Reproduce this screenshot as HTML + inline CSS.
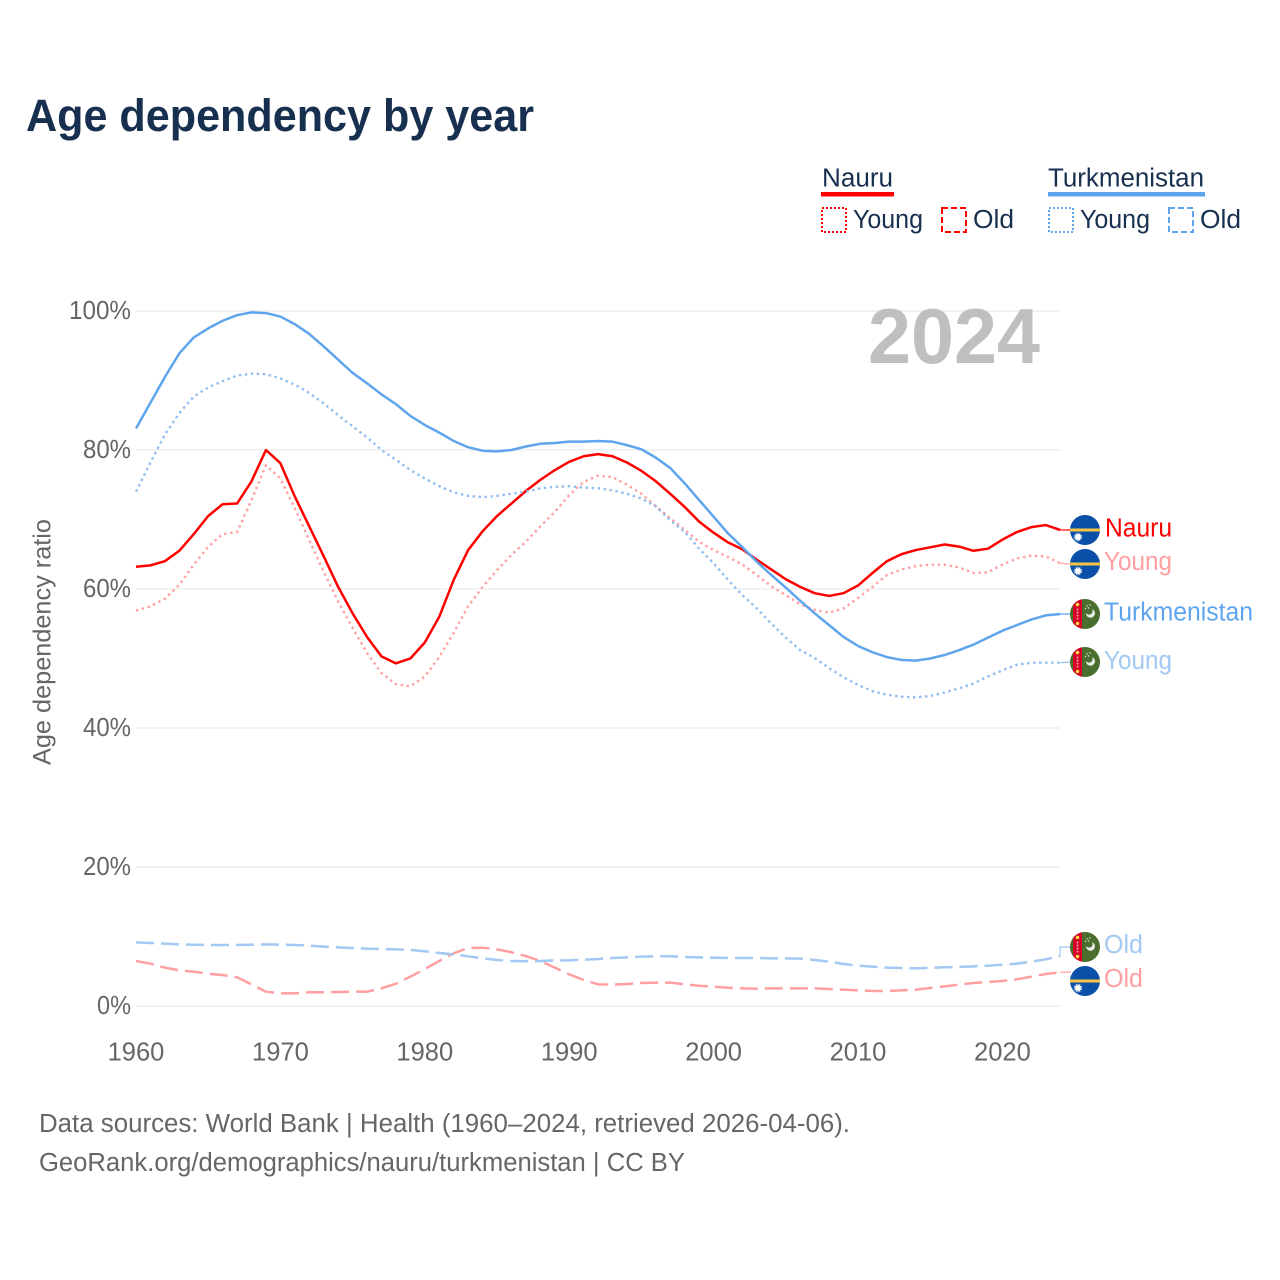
<!DOCTYPE html>
<html lang="en">
<head>
<meta charset="utf-8">
<title>Age dependency by year</title>
<style>
html,body{margin:0;padding:0;background:#fff;width:1280px;height:1280px;overflow:hidden}
svg{display:block;font-family:"Liberation Sans",sans-serif}
</style>
</head>
<body>
<svg id="chart" xmlns="http://www.w3.org/2000/svg" width="1280" height="1280" viewBox="0 0 1280 1280">
  <rect width="1280" height="1280" fill="#fff"/>
  <text x="26" y="131" font-size="45" font-weight="700" fill="#18304f" textLength="508" lengthAdjust="spacingAndGlyphs">Age dependency by year</text>

  <g font-size="25.5" fill="#18304f">
    <text x="822" y="186.5" textLength="71" lengthAdjust="spacingAndGlyphs">Nauru</text>
    <rect x="821" y="192" width="73" height="4.5" fill="#ff0000"/>
    <rect x="822" y="208" width="24" height="24" fill="none" stroke="#ff0000" stroke-width="2" stroke-dasharray="2 2"/>
    <text x="853" y="228" textLength="70" lengthAdjust="spacingAndGlyphs">Young</text>
    <rect x="942" y="208" width="24" height="24" fill="none" stroke="#ff0000" stroke-width="2" stroke-dasharray="6 3"/>
    <text x="973" y="228" textLength="41" lengthAdjust="spacingAndGlyphs">Old</text>
    <text x="1048" y="186.5" textLength="156" lengthAdjust="spacingAndGlyphs">Turkmenistan</text>
    <rect x="1048" y="192" width="157" height="4.5" fill="#5fa5ee"/>
    <rect x="1049" y="208" width="24" height="24" fill="none" stroke="#5fa5ee" stroke-width="2" stroke-dasharray="2 2"/>
    <text x="1080" y="228" textLength="70" lengthAdjust="spacingAndGlyphs">Young</text>
    <rect x="1169" y="208" width="24" height="24" fill="none" stroke="#5fa5ee" stroke-width="2" stroke-dasharray="6 3"/>
    <text x="1200" y="228" textLength="41" lengthAdjust="spacingAndGlyphs">Old</text>
  </g>

  <g id="grid"></g>
  <text x="868" y="363" font-size="78" font-weight="700" fill="#bfbfbf" textLength="172" lengthAdjust="spacingAndGlyphs">2024</text>
  <g id="yticks" font-size="25.5" fill="#666"></g>
  <g id="xticks" font-size="25.5" fill="#666"></g>
  <text transform="translate(50.5 765) rotate(-90)" font-size="25" fill="#666" textLength="246" lengthAdjust="spacingAndGlyphs">Age dependency ratio</text>
  <g id="series"></g>
  <g id="flags"></g>

  <g font-size="25.5">
    <text x="1105" y="536.5" fill="#ff0000" textLength="67" lengthAdjust="spacingAndGlyphs">Nauru</text>
    <text x="1104" y="570" fill="#ff9fa1" textLength="68" lengthAdjust="spacingAndGlyphs">Young</text>
    <text x="1104" y="620.5" fill="#5fa5ee" textLength="149" lengthAdjust="spacingAndGlyphs">Turkmenistan</text>
    <text x="1104" y="669" fill="#a2c9f3" textLength="68" lengthAdjust="spacingAndGlyphs">Young</text>
    <text x="1104" y="953" fill="#a2c9f3" textLength="39" lengthAdjust="spacingAndGlyphs">Old</text>
    <text x="1104" y="987" fill="#ff9fa1" textLength="39" lengthAdjust="spacingAndGlyphs">Old</text>
  </g>

  <g font-size="25.5" fill="#666">
    <text x="39" y="1132" textLength="811" lengthAdjust="spacingAndGlyphs">Data sources: World Bank | Health (1960–2024, retrieved 2026-04-06).</text>
    <text x="39" y="1171" textLength="646" lengthAdjust="spacingAndGlyphs">GeoRank.org/demographics/nauru/turkmenistan | CC BY</text>
  </g>
</svg>
<script>
const years = [1960,1961,1962,1963,1964,1965,1966,1967,1968,1969,1970,1971,1972,1973,1974,1975,1976,1977,1978,1979,1980,1981,1982,1983,1984,1985,1986,1987,1988,1989,1990,1991,1992,1993,1994,1995,1996,1997,1998,1999,2000,2001,2002,2003,2004,2005,2006,2007,2008,2009,2010,2011,2012,2013,2014,2015,2016,2017,2018,2019,2020,2021,2022,2023,2024];
const xTickLabels = [1960,1970,1980,1990,2000,2010,2020];
const yTickLabels = [0,20,40,60,80,100];
const nauruTotal = [63.2,63.4,64.0,65.5,67.9,70.5,72.2,72.3,75.5,80.0,78.1,73.3,69.0,64.7,60.3,56.5,53.1,50.3,49.3,50.0,52.3,56.0,61.3,65.6,68.3,70.5,72.3,74.1,75.7,77.1,78.3,79.1,79.4,79.1,78.2,77.0,75.5,73.7,71.8,69.7,68.1,66.7,65.7,64.2,62.8,61.4,60.3,59.4,59.0,59.4,60.5,62.3,64.0,65.0,65.6,66.0,66.4,66.1,65.5,65.8,67.1,68.2,68.9,69.2,68.5];
const nauruYoung = [56.9,57.5,58.6,60.6,63.5,66.1,67.9,68.2,72.8,77.8,75.9,71.6,67.0,62.5,58.2,54.4,50.8,47.9,46.3,46.0,47.4,50.2,53.7,57.5,60.3,62.7,64.9,66.8,69.0,71.1,73.5,75.4,76.3,76.1,75.0,73.7,71.9,70.2,68.5,66.8,65.6,64.6,63.5,62.0,60.4,59.1,57.8,57.0,56.6,57.2,58.7,60.3,62.0,62.8,63.3,63.5,63.5,63.1,62.3,62.4,63.5,64.4,64.8,64.7,63.7];
const nauruOld = [6.47,6.09,5.52,5.13,4.94,4.65,4.46,4.12,3.12,2.06,1.82,1.82,1.97,1.97,2.01,2.06,2.06,2.54,3.21,4.22,5.32,6.47,7.58,8.35,8.39,8.15,7.73,7.19,6.47,5.52,4.56,3.74,3.12,3.07,3.17,3.31,3.36,3.36,3.12,2.92,2.78,2.63,2.54,2.49,2.54,2.54,2.54,2.54,2.44,2.35,2.25,2.16,2.16,2.25,2.35,2.59,2.83,3.07,3.31,3.45,3.6,3.84,4.22,4.6,4.85];
const turkmenTotal = [83.1,86.8,90.5,93.9,96.2,97.5,98.6,99.4,99.8,99.7,99.2,98.1,96.7,94.9,93.0,91.1,89.6,88.0,86.6,84.9,83.6,82.5,81.3,80.4,79.9,79.8,80.0,80.5,80.9,81.0,81.2,81.2,81.3,81.2,80.7,80.1,78.9,77.4,75.2,72.8,70.4,68.0,66.0,63.9,62.0,60.2,58.3,56.5,54.8,53.1,51.8,50.9,50.2,49.8,49.7,50.0,50.5,51.2,52.0,53.0,54.0,54.8,55.6,56.2,56.4];
const turkmenYoung = [74.0,78.2,82.2,85.3,87.7,89.0,89.9,90.7,91.0,90.9,90.3,89.4,88.2,86.7,85.0,83.4,81.8,80.0,78.6,77.1,75.9,74.8,73.9,73.4,73.2,73.4,73.7,74.0,74.5,74.7,74.8,74.6,74.5,74.2,73.7,73.0,71.9,69.9,68.2,65.8,63.7,61.3,59.1,57.2,55.0,53.0,51.2,50.1,48.6,47.3,46.2,45.3,44.8,44.5,44.4,44.6,45.1,45.7,46.4,47.4,48.3,49.1,49.4,49.4,49.4];
const turkmenOld = [9.16,9.06,8.97,8.87,8.82,8.78,8.78,8.78,8.82,8.87,8.82,8.78,8.68,8.54,8.44,8.35,8.25,8.2,8.15,8.06,7.87,7.63,7.43,7.15,6.86,6.62,6.47,6.43,6.47,6.57,6.57,6.67,6.76,6.9,7.0,7.1,7.15,7.15,7.05,7.0,6.95,6.9,6.9,6.9,6.86,6.86,6.81,6.62,6.38,6.04,5.8,5.66,5.52,5.47,5.42,5.47,5.57,5.62,5.71,5.8,5.94,6.09,6.38,6.72,7.19];

const NS = 'http://www.w3.org/2000/svg';
const xScale = v => 136 + (v - 1960) * 14.44;
const yScale = v => 1006 - v * 6.95;
function mk(tag, attrs, parent) {
  const el = document.createElementNS(NS, tag);
  for (const k in attrs) el.setAttribute(k, attrs[k]);
  parent.appendChild(el);
  return el;
}
const gridG = document.getElementById('grid');
const yG = document.getElementById('yticks');
const xG = document.getElementById('xticks');
const seriesG = document.getElementById('series');
const flagsG = document.getElementById('flags');

yTickLabels.forEach(v => {
  const line = mk('line', {x1:136, x2:1060, y1:yScale(v), y2:yScale(v), stroke:'#eeeeee', 'stroke-width':1.6}, gridG);
  
  
  const t = mk('text', {x:131, y:yScale(v) + 8, 'text-anchor':'end', textLength:20 + 14 * String(v).length, lengthAdjust:'spacingAndGlyphs'}, yG);
  
  
  t.textContent = v + '%';
});
xTickLabels.forEach(v => {
  const t = mk('text', {x:xScale(v), y:1060.5, 'text-anchor':'middle'}, xG);
  
  
  t.textContent = v;
});

const DOT = '2.4 3.6', DASH = '18 7';
const seriesDefs = [
  {name:'nauru-old', vals:nauruOld, color:'#ff9fa1', dash:DASH, labelY:972},
  {name:'nauru-young', vals:nauruYoung, color:'#ff9fa1', dash:DOT, labelY:564},
  {name:'nauru-total', vals:nauruTotal, color:'#ff0000', dash:null, labelY:530},
  {name:'turkmenistan-old', vals:turkmenOld, color:'#a2c9f3', dash:DASH, labelY:947},
  {name:'turkmenistan-young', vals:turkmenYoung, color:'#8fbdf0', dash:DOT, labelY:662},
  {name:'turkmenistan-total', vals:turkmenTotal, color:'#5fa5ee', dash:null, labelY:614}
];
seriesDefs.forEach(s => {
  const d = s.vals.map((v, i) => (i ? 'L' : 'M') + xScale(years[i]).toFixed(2) + ' ' + yScale(v).toFixed(2)).join(' ');
  const p = mk('path', {d:d, fill:'none', stroke:s.color, 'stroke-width':s.dash === DOT ? 2.4 : 2.5, 'stroke-linejoin':'round'}, seriesG);
  if (s.dash) p.setAttribute('stroke-dasharray', s.dash);
  
  
  const endX = xScale(years[years.length - 1]);
  const endY = yScale(s.vals[s.vals.length - 1]);
  const leaderD = 'M' + endX + ' ' + endY + ' L' + endX + ' ' + s.labelY + ' L1071 ' + s.labelY;
  const leader = mk('path', {d: Math.abs(endY - s.labelY) < 2 ? 'M' + endX + ' ' + endY + ' L1071 ' + s.labelY : leaderD, fill:'none', stroke:s.color, 'stroke-width':1.4, opacity:.85}, seriesG);
  
  
});

function nauruFlag(cy, name) {
  const cx = 1085;
  const g = mk('g', {}, flagsG);
  
  
  mk('circle', {cx:cx, cy:cy, r:15, fill:'#0a4fa8'}, g);
  mk('rect', {x:cx - 15, y:cy - 1.5, width:30, height:3, fill:'#f6c544'}, g);
  mk('circle', {cx:cx - 7, cy:cy + 7, r:2.8, fill:'#fff'}, g);
  for (let a = 0; a < 12; a++) {
    const r = a * Math.PI / 6;
    mk('line', {x1:cx - 7, y1:cy + 7, x2:cx - 7 + 4.2 * Math.cos(r), y2:cy + 7 + 4.2 * Math.sin(r), stroke:'#fff', 'stroke-width':1}, g);
  }
}
function turkmenFlag(cy, name) {
  const cx = 1085;
  const g = mk('g', {}, flagsG);
  
  
  mk('circle', {cx:cx, cy:cy, r:15, fill:'#496e2d'}, g);
  mk('path', {d:'M' + (cx - 12) + ' ' + (cy - 9) + ' A15 15 0 0 1 ' + (cx - 3) + ' ' + (cy - 14.7) + ' L' + (cx - 3) + ' ' + (cy + 14.7) + ' A15 15 0 0 1 ' + (cx - 12) + ' ' + (cy + 9) + ' Z', fill:'#d80027'}, g);
  mk('circle', {cx:cx - 7.5, cy:cy - 9.5, r:1.8, fill:'#ffda44'}, g);
  mk('circle', {cx:cx - 7.5, cy:cy + 9.5, r:1.8, fill:'#ffda44'}, g);
  [-4.5, -1.5, 1.5, 4.5].forEach(o => mk('circle', {cx:cx - 7.5, cy:cy + o, r:1, fill:'#e8a0a0'}, g));
  mk('path', {d:'M' + (cx + 7) + ' ' + (cy - 5) + ' A4.5 4.5 0 1 1 ' + (cx + 1) + ' ' + (cy - 1) + ' A3.6 3.6 0 0 0 ' + (cx + 7) + ' ' + (cy - 5) + ' Z', fill:'#e8ece4'}, g);
  [[2,-8],[5,-9],[0.5,-5.5],[3.5,-6]].forEach(o => mk('circle', {cx:cx + o[0], cy:cy + o[1], r:.7, fill:'#e8ece4'}, g));
}
nauruFlag(530, 'flag-nauru');
nauruFlag(564, 'flag-nauru-young');
turkmenFlag(614, 'flag-turkmenistan');
turkmenFlag(662, 'flag-turkmenistan-young');
turkmenFlag(947, 'flag-turkmenistan-old');
nauruFlag(981, 'flag-nauru-old');
</script>
</body>
</html>
